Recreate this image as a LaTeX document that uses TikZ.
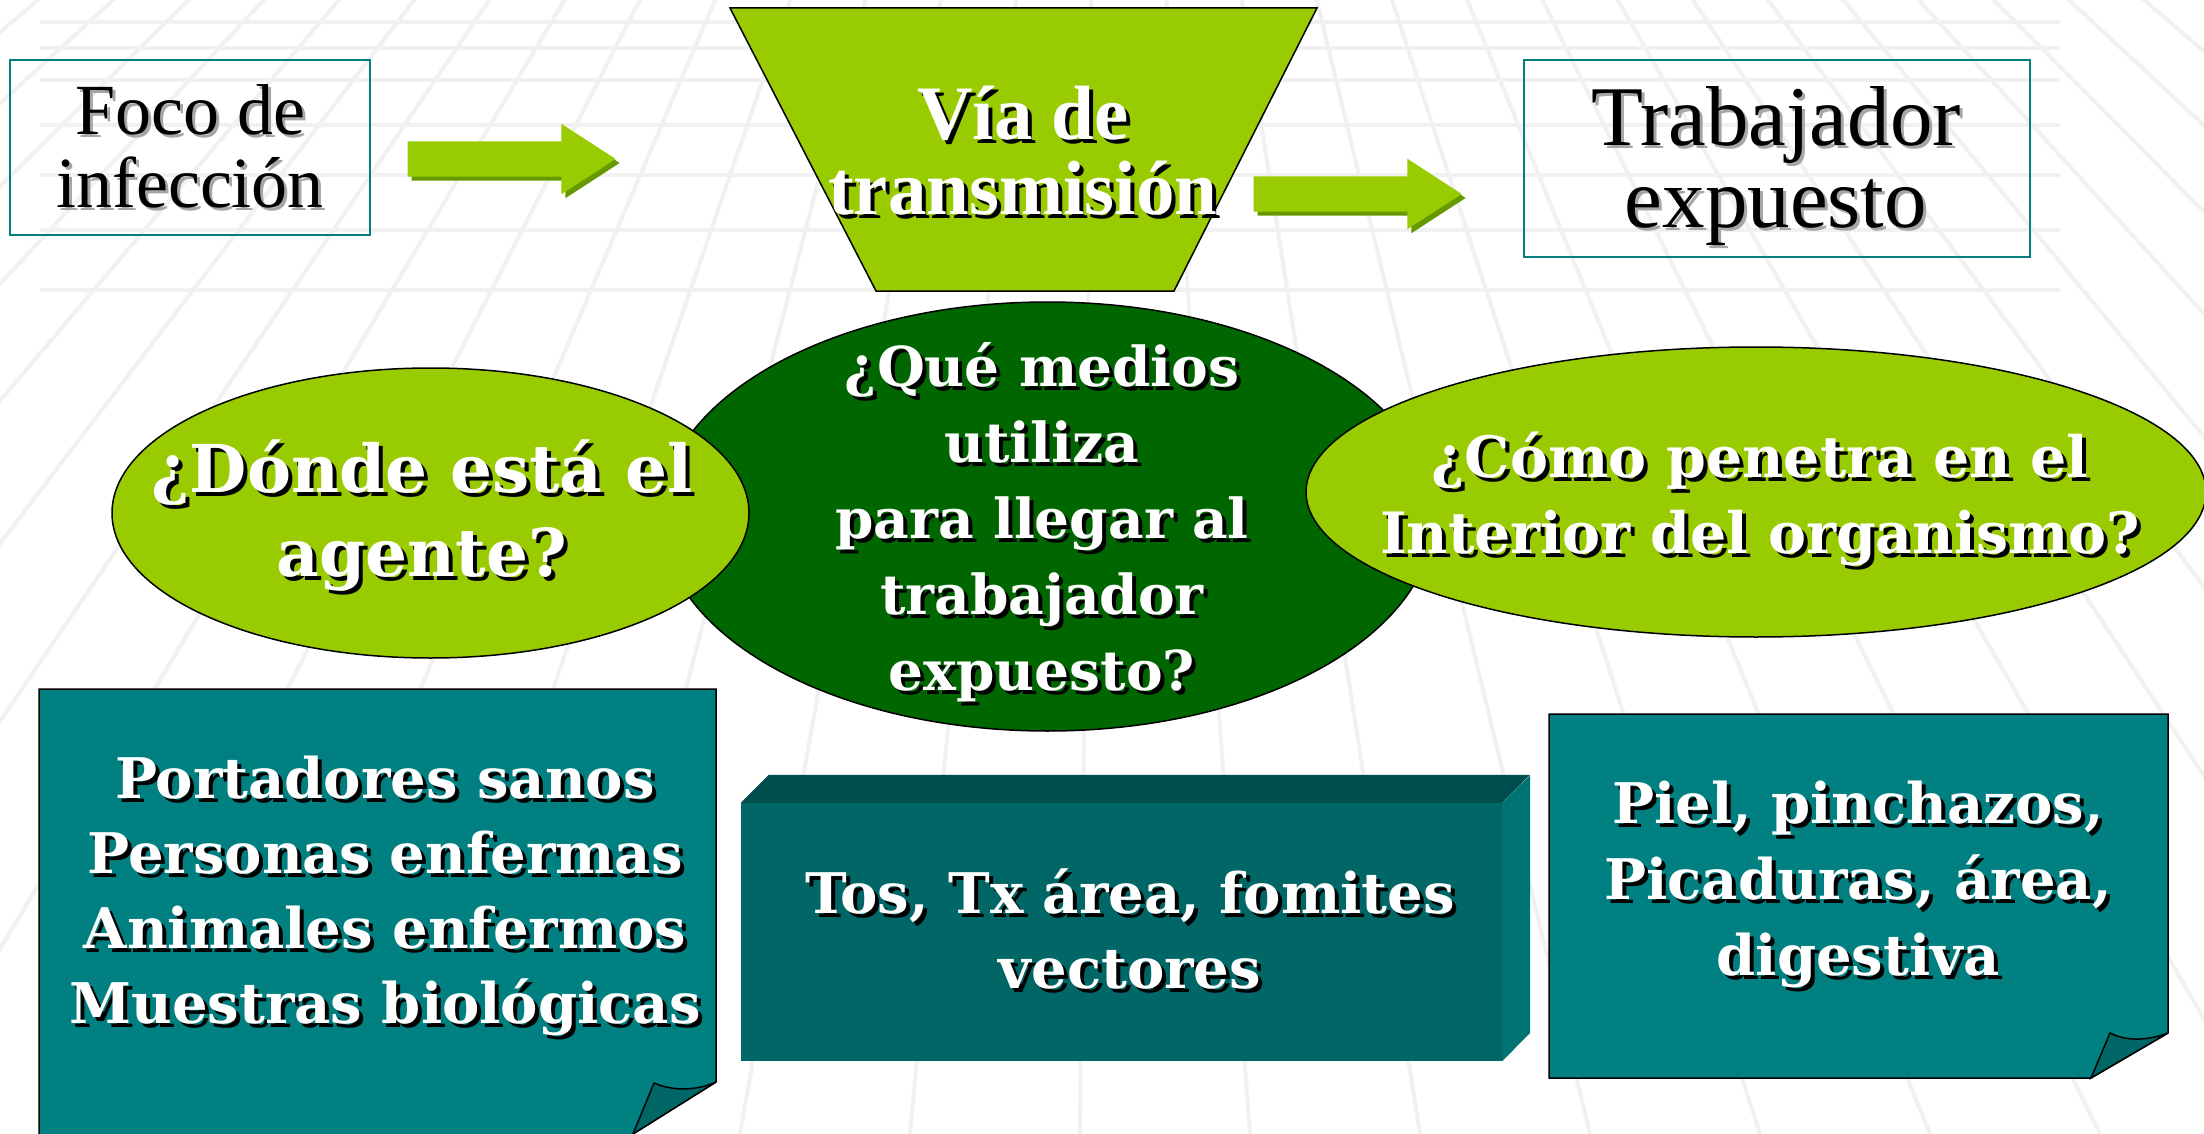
\documentclass[tikz,border=0pt]{standalone}
\usepackage{fontspec}
\setmainfont{Liberation Serif}
\newfontfamily\bookfont{DejaVu Serif}
\usetikzlibrary{shapes.geometric,shapes.arrows}

\definecolor{verdeclaro}{HTML}{99CC00}
\definecolor{verdesombra}{HTML}{669900}
\definecolor{verdeoscuro}{HTML}{006600}
\definecolor{azulverde}{HTML}{008080}
\definecolor{cajafrente}{HTML}{006666}
\definecolor{cajatapa}{HTML}{004D4D}
\definecolor{cajalado}{HTML}{007373}
\definecolor{rejilla}{HTML}{F1F1F1}

% texto con sombra: color de sombra, desplazamiento, lineas
\newcommand{\sombreado}[3]{\leavevmode\rlap{\raisebox{-#2}{\hspace*{#2}\color{#1}\begin{tabular}{@{}c@{}}#3\end{tabular}}}\begin{tabular}{@{}c@{}}#3\end{tabular}}

\tikzset{
  rejillalinea/.style={draw=rejilla, line width=4pt},
  marco/.style={draw=azulverde, line width=2pt, rectangle, inner sep=0pt},
  flecha/.style={single arrow, fill=verdeclaro, inner xsep=0pt, inner ysep=17.5pt, minimum height=208pt, single arrow head extend=17.5pt, single arrow tip angle=66},
  flechasombra/.style={flecha, fill=verdesombra},
  globo/.style={ellipse, draw=black, line width=1.5pt, inner sep=0pt},
  nota/.style={fill=azulverde, draw=black, line width=1.5pt},
  pliegue/.style={fill=cajafrente, draw=black, line width=1.5pt},
  txtnegro/.style 2 args={inner sep=0pt, text=black, font={\fontsize{#1}{#2}\selectfont}},
  txtblanco/.style 2 args={inner sep=0pt, text=white, font={\bookfont\bfseries\fontsize{#1}{#2}\selectfont}},
}

\begin{document}
\begin{tikzpicture}[x=1pt,y=-1pt]
\useasboundingbox (0,0) rectangle (2204,1134);
\clip (0,0) rectangle (2204,1134);
\fill[white] (0,0) rectangle (2204,1134);

% rejilla de fondo
\foreach \x in {-3000,-2830,...,5200}
  \draw[rejillalinea] (1100,-900) -- (\x,1134);
\foreach \y in {22,48,80,125,175,230,290}
  \draw[rejillalinea] (40,\y) -- (2060,\y);

% fila superior
\node[marco, minimum width=360pt, minimum height=175pt] (foco) at (190,147.5) {};
\node[txtnegro={72}{72}] (focoT) at (190,158) {\sombreado{gray!70}{3pt}{Foco de\\infección}};

\node[flechasombra] (flecha1s) at (502,163) {};
\node[flecha] (flecha1) at (498,159) {};

\draw[fill=verdeclaro, draw=black, line width=1.5pt] (730,8) -- (1317,8) -- (1174,291) -- (876,291) -- cycle;
\node[inner sep=0pt, text=white, font={\bfseries\fontsize{77}{73}\selectfont}] (viaT) at (1023,163) {\sombreado{black}{4pt}{Vía de\\transmisión}};

\node[flechasombra] (flecha2s) at (1348,198) {};
\node[flecha] (flecha2) at (1344,194) {};

\node[marco, minimum width=506pt, minimum height=197pt] (trab) at (1777,158.5) {};
\node[txtnegro={85}{82}] (trabT) at (1776,171) {\sombreado{gray!70}{3pt}{Trabajador\\expuesto}};

% preguntas
\node[globo, fill=verdeoscuro, minimum width=773pt, minimum height=429pt] (mediosE) at (1047.5,516.5) {};
\node[globo, fill=verdeclaro, minimum width=637pt, minimum height=290pt] (dondeE) at (430.5,513) {};
\node[globo, fill=verdeclaro, minimum width=900pt, minimum height=290pt] (penetraE) at (1756,492) {};

\node[txtblanco={66}{84}] (dondeT) at (422,520) {\sombreado{black}{4pt}{¿Dónde está el\\agente?}};
\node[txtblanco={55}{76}] (mediosT) at (1042,525) {\sombreado{black}{4pt}{¿Qué medios\\utiliza\\para llegar al\\trabajador\\expuesto?}};
\node[txtblanco={57}{76}] (penetraT) at (1760,502) {\sombreado{black}{4pt}{¿Cómo penetra en el\\Interior del organismo?}};

% respuestas
\draw[nota] (39,689) -- (716,689) -- (716,1082) coordinate (portP1) -- (633,1134) coordinate (portP2) -- (633,1140) -- (39,1140) -- cycle;
\draw[pliegue] (portP2) -- (654,1083) .. controls (675,1092) and (698,1090) .. (portP1) -- cycle;

\node[fill=cajafrente, minimum width=761pt, minimum height=258pt, inner sep=0pt] (tosC) at (1121.5,932) {};
\fill[cajatapa] (tosC.north west) -- ++(28,-28) -- ++(761,0) -- (tosC.north east) -- cycle;
\fill[cajalado] (tosC.north east) -- ++(28,-28) -- ++(0,258) -- (tosC.south east) -- cycle;

\draw[nota] (1549,714) -- (2168,714) -- (2168,1033) coordinate (pielP1) -- (2091,1078) coordinate (pielP2) -- (1549,1078) -- cycle;
\draw[pliegue] (pielP2) -- (2110,1033) .. controls (2127,1042) and (2150,1040) .. (pielP1) -- cycle;

\node[txtblanco={56}{75}] (portT) at (385,898) {\sombreado{black}{4pt}{Portadores sanos\\Personas enfermas\\Animales enfermos\\Muestras biológicas}};
\node[txtblanco={56}{75}] (tosT) at (1130,938) {\sombreado{black}{4pt}{Tos, Tx área, fomites\\vectores}};
\node[txtblanco={56}{76}] (pielT) at (1858,886) {\sombreado{black}{4pt}{Piel, pinchazos,\\Picaduras, área,\\digestiva}};
\end{tikzpicture}
\end{document}
